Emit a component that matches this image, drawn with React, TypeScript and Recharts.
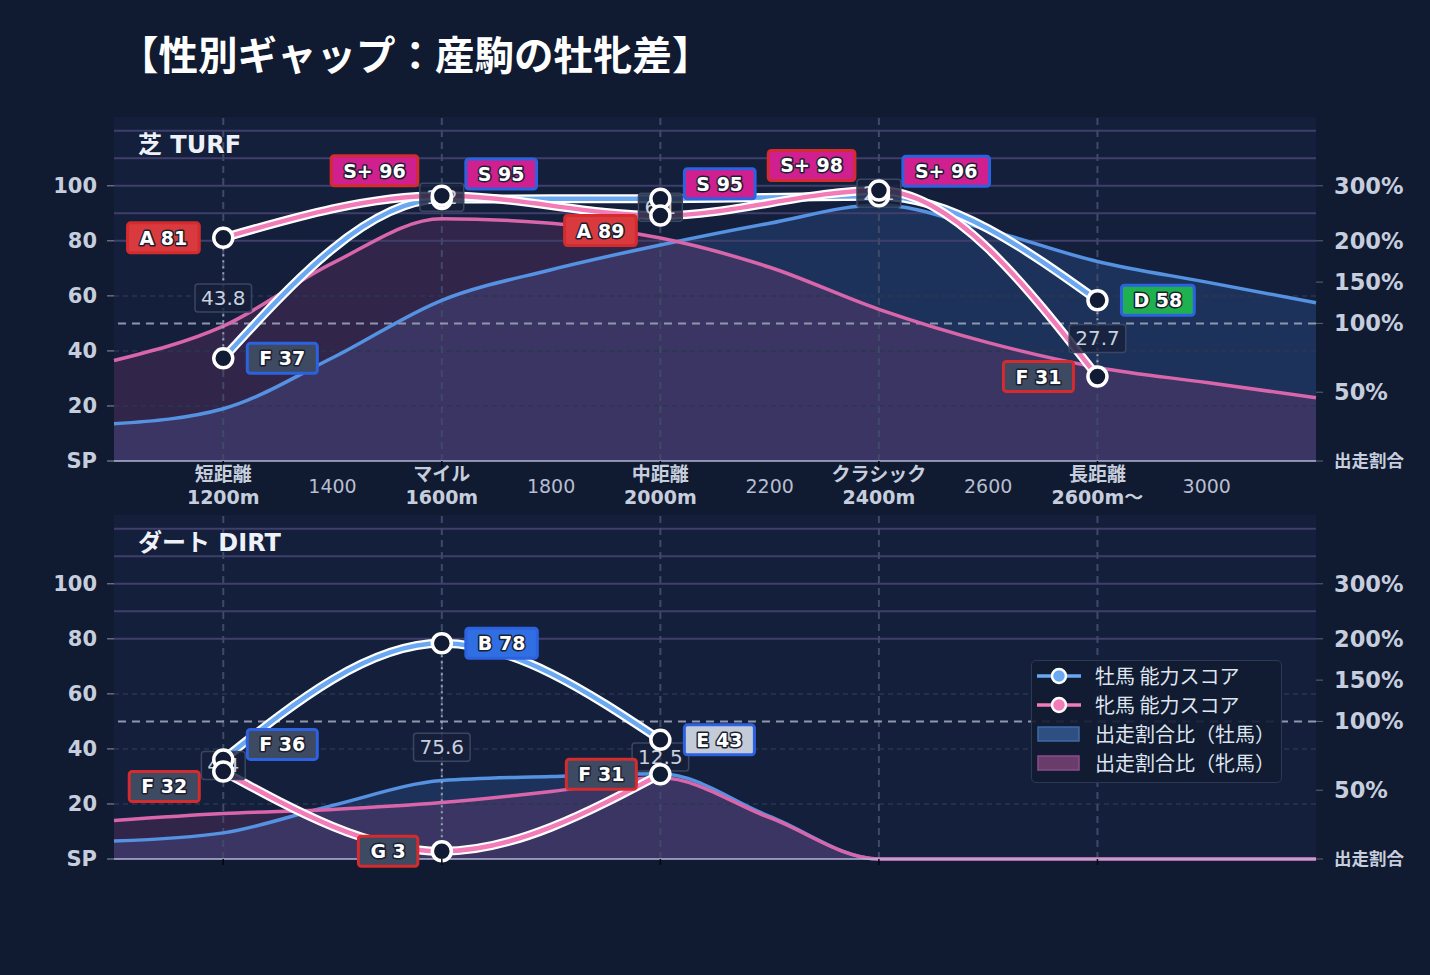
import React from 'react';
import {
  ComposedChart,
  Line,
  Area,
  XAxis,
  YAxis,
  CartesianGrid,
  ReferenceLine,
  Legend,
} from 'recharts';

// 200m刻みの距離軸
const distances = [1000, 1200, 1400, 1600, 1800, 2000, 2200, 2400, 2600, 2800, 3000, 3200];
const distanceTicks = [1200, 1400, 1600, 1800, 2000, 2200, 2400, 2600, 2800, 3000];

// 距離カテゴリ
const categoryDistances = [1200, 1600, 2000, 2400, 2800];
const categoryNames = ['短距離', 'マイル', '中距離', 'クラシック', '長距離'];
const categoryLengths = ['1200m', '1600m', '2000m', '2400m', '2600m〜'];

// 能力スコア（カテゴリごと）
const turfMaleScore = [37.3, 95.2, 95.3, 96.2, 58.4];
const turfFemaleScore = [81.1, 96.4, 89.2, 98.3, 30.7];
const dirtMaleScore = [36.2, 78.4, 43.3, null, null];
const dirtFemaleScore = [31.8, 2.8, 30.8, null, null];

// 出走割合比（%）
const turfMaleShare = [27, 38, 75, 128, 165, 195, 232, 265, 220, 175, 150, 125];
const turfFemaleShare = [73, 98, 173, 240, 232, 205, 168, 117, 86, 68, 57, 46];
const dirtMaleShare = [13, 19, 39, 57, 60, 62, 31, 0, 0, 0, 0, 0];
const dirtFemaleShare = [28, 33, 36, 41, 49, 59, 30, 0, 0, 0, 0, 0];

const scoreTicks = [0, 20, 40, 60, 80, 100];
const shareTicks = [0, 50, 100, 150, 200, 300];
const rankLines = [80, 90, 100, 110, 120];
const minorLines = [20, 40, 60];

const FONT = '"DejaVu Sans", "Noto Sans CJK JP", sans-serif';
const CJK = '"Noto Sans CJK JP", sans-serif';

const MALE = '#6aa9f2';
const FEMALE = '#f27cb8';
const MALE_BORDER = '#2c62e0';
const FEMALE_BORDER = '#d32b2e';

const rankSteps: [number, string][] = [
  [96, 'S+'], [90, 'S'], [80, 'A'], [70, 'B'], [60, 'C'], [50, 'D'], [40, 'E'], [20, 'F'], [0, 'G'],
];
const rankFill: Record<string, string> = {
  'S+': '#d01f8e', S: '#d01f8e', A: '#d93a3d', B: '#2f6fe3', C: '#e0922e',
  D: '#1fb14f', E: '#c3cad8', F: '#3d4a62', G: '#3d4a62',
};

const rankOf = (score: number) => rankSteps.find(([min]) => score >= min)![1];

// 出走割合（%）を左軸と同じスケールに載せる
const shareToAxis = (p: number) => {
  if (p <= 100) return p / 2;
  if (p <= 200) return 50 + (p - 100) * 0.3;
  return 80 + (p - 200) * 0.2;
};

const measureCtx = typeof document !== 'undefined' ? document.createElement('canvas').getContext('2d') : null;
const textWidth = (t: string, font: string) => {
  if (!measureCtx) return t.length * 11;
  measureCtx.font = font;
  return measureCtx.measureText(t).width;
};

const buildRows = (male: (number | null)[], female: (number | null)[], maleShare: number[], femaleShare: number[]) =>
  distances.map((d, i) => {
    const c = categoryDistances.indexOf(d);
    return {
      distance: d,
      male: c >= 0 ? male[c] : null,
      female: c >= 0 ? female[c] : null,
      maleShare: shareToAxis(maleShare[i]),
      femaleShare: shareToAxis(femaleShare[i]),
    };
  });

// 牡牝をつなぐ縦の点線（null で区切る）
const buildConnectors = (male: (number | null)[], female: (number | null)[]) => {
  const out: { distance: number; v: number | null }[] = [];
  categoryDistances.forEach((d, c) => {
    const m = male[c];
    const f = female[c];
    if (m == null || f == null) return;
    out.push({ distance: d, v: m }, { distance: d, v: f }, { distance: d, v: null });
  });
  return out;
};

const buildGaps = (male: (number | null)[], female: (number | null)[]) =>
  categoryDistances
    .map((d, c) => {
      const m = male[c];
      const f = female[c];
      if (m == null || f == null) return null;
      return { distance: d, mid: (m + f) / 2, gap: Math.abs(m - f) };
    })
    .filter(Boolean) as { distance: number; mid: number; gap: number }[];

const ScoreDot = (props: any) => {
  const { cx, cy, value, index } = props;
  if (value == null || cx == null || cy == null) return <g key={`sd-${index}`} />;
  return <circle key={`sd-${index}`} cx={cx} cy={cy} r={9.5} fill="#121b34" stroke="#ffffff" strokeWidth={3.5} />;
};

const GapDot = (props: any) => {
  const { cx, cy, payload, index } = props;
  if (cx == null || cy == null) return <g key={`gd-${index}`} />;
  const t = payload.gap.toFixed(1);
  const w = textWidth(t, '20px "DejaVu Sans"') + 12;
  return (
    <g key={`gd-${index}`}>
      <rect x={cx - w / 2} y={cy - 14} width={w} height={28} rx={3} fill="rgba(22,32,58,0.82)" stroke="#3b4762" strokeWidth={1.5} />
      <text x={cx} y={cy + 7} textAnchor="middle" fontSize={20} fill="#c9d0de" fontFamily={FONT}>
        {t}
      </text>
    </g>
  );
};

const makeRankLabel = (side: 'male' | 'female') => (props: any) => {
  const { cx, cy, payload, index } = props;
  const own = payload?.[side];
  const other = payload?.[side === 'male' ? 'female' : 'male'];
  if (own == null || cx == null || cy == null) return <g key={`rl-${side}-${index}`} />;
  let dy = 0;
  if (other != null) {
    const gap = Math.abs(own - other);
    if (gap < 3) dy = -25;
    else if (gap < 10) dy = own >= other ? -15 : 15;
  }
  const score = Math.round(own);
  const rank = rankOf(score);
  const text = `${rank} ${score}`;
  const w = textWidth(text, 'bold 19px "DejaVu Sans"') + 24;
  const x0 = side === 'male' ? cx + 24 : cx - 24 - w;
  const yc = cy + dy;
  return (
    <g key={`rl-${side}-${index}`}>
      <rect
        x={x0}
        y={yc - 15}
        width={w}
        height={30}
        rx={3}
        fill={rankFill[rank]}
        stroke={side === 'male' ? MALE_BORDER : FEMALE_BORDER}
        strokeWidth={3}
      />
      <text
        x={x0 + w / 2}
        y={yc + 7}
        textAnchor="middle"
        fontSize={19}
        fontWeight={700}
        fontFamily={FONT}
        fill="#ffffff"
        stroke="#1b1f30"
        strokeWidth={3}
        strokeLinejoin="round"
        paintOrder="stroke"
      >
        {text}
      </text>
    </g>
  );
};
const maleRankLabel = makeRankLabel('male');
const femaleRankLabel = makeRankLabel('female');

const DistanceTick = (props: any) => {
  const { x, y, payload } = props;
  const c = categoryDistances.indexOf(payload.value);
  if (c >= 0) {
    return (
      <g>
        <line x1={x} x2={x} y1={y} y2={y + 6} stroke="#05080f" strokeWidth={1.5} />
        <text x={x} y={y + 20} textAnchor="middle" fontSize={19} fontWeight={700} fill="#c6cede" fontFamily={FONT}>
          {categoryNames[c]}
        </text>
        <text x={x} y={y + 43} textAnchor="middle" fontSize={19} fontWeight={700} fill="#c6cede" fontFamily={FONT}>
          {categoryLengths[c]}
        </text>
      </g>
    );
  }
  return (
    <text x={x} y={y + 32} textAnchor="middle" fontSize={19} fill="#b6bed0" fontFamily={FONT}>
      {payload.value}
    </text>
  );
};

const MarkOnlyTick = (props: any) => {
  const { x, y, payload } = props;
  if (categoryDistances.indexOf(payload.value) < 0) return <g />;
  return <line x1={x} x2={x} y1={y} y2={y + 6} stroke="#05080f" strokeWidth={1.5} />;
};

const ShareTick = (props: any) => {
  const { x, y, payload } = props;
  const i = shareTicks.map(shareToAxis).indexOf(payload.value);
  const pct = shareTicks[i];
  if (pct === 0) {
    return (
      <text x={x} y={y} dy="0.35em" fontSize={17.5} fontWeight={700} fill="#c6cede" fontFamily={CJK}>
        出走割合
      </text>
    );
  }
  return (
    <text x={x} y={y} dy="0.35em" fontSize={22.5} fontWeight={700} fill="#c6cede" fontFamily={FONT}>
      {`${pct}%`}
    </text>
  );
};

const legendItems = [
  { name: '牡馬 能力スコア', kind: 'line', color: MALE },
  { name: '牝馬 能力スコア', kind: 'line', color: FEMALE },
  { name: '出走割合比（牡馬）', kind: 'box', color: '#2d4f82', edge: '#3f6aa8' },
  { name: '出走割合比（牝馬）', kind: 'box', color: '#6a3c6c', edge: '#8c4c8a' },
];

const renderLegend = () => (
  <div
    style={{
      background: 'rgba(18,27,50,0.9)',
      border: '1.5px solid #2d3852',
      borderRadius: 5,
      padding: '0px 6px 5px 5px',
      fontFamily: CJK,
      fontSize: 20,
      color: '#dfe5ef',
    }}
  >
    {legendItems.map((it) => (
      <div key={it.name} style={{ display: 'flex', alignItems: 'center', height: 29 }}>
        <svg width={44} height={20} style={{ marginRight: 14 }}>
          {it.kind === 'line' ? (
            <>
              <line x1={0} x2={44} y1={10} y2={10} stroke={it.color} strokeWidth={3.5} />
              <circle cx={22} cy={10} r={7} fill={it.color} stroke="#ffffff" strokeWidth={2.5} />
            </>
          ) : (
            <rect x={1} y={3} width={41} height={14} fill={it.color} stroke={it.edge} strokeWidth={1.5} />
          )}
        </svg>
        <span style={{ whiteSpace: 'nowrap' }}>{it.name}</span>
      </div>
    ))}
  </div>
);

interface PanelProps {
  rows: any[];
  connectors: any[];
  gaps: any[];
  top: number;
  marginTop: number;
  height: number;
  xAxisHeight: number;
  label: string;
  showDistanceLabels: boolean;
  withLegend: boolean;
}

const DistancePanel = ({
  rows, connectors, gaps, top, marginTop, height, xAxisHeight, label, showDistanceLabels, withLegend,
}: PanelProps) => (
  <div style={{ position: 'absolute', left: 0, top, width: 1430, height }}>
    <ComposedChart width={1430} height={height} data={rows} margin={{ top: marginTop, right: 14, bottom: 0, left: 34 }}>
      <CartesianGrid fill="#131f3b" horizontal={false} vertical={false} />
      <XAxis
        dataKey="distance"
        type="number"
        domain={[1000, 3200]}
        ticks={distanceTicks}
        interval={0}
        height={xAxisHeight}
        tick={showDistanceLabels ? DistanceTick : MarkOnlyTick}
        tickLine={false}
        tickSize={0}
        tickMargin={0}
        axisLine={{ stroke: '#b6b6da', strokeWidth: 1.5 }}
      />
      <YAxis
        yAxisId="score"
        orientation="left"
        width={80}
        domain={[0, 125]}
        ticks={scoreTicks}
        interval={0}
        tickFormatter={(v: number) => (v === 0 ? 'SP' : String(v))}
        tick={{ fill: '#c6cede', fontSize: 21, fontWeight: 700, fontFamily: FONT }}
        tickSize={7}
        tickMargin={10}
        tickLine={{ stroke: '#8d93a6' }}
        axisLine={false}
      />
      <YAxis
        yAxisId="share"
        orientation="right"
        width={100}
        domain={[0, 125]}
        ticks={shareTicks.map(shareToAxis)}
        interval={0}
        tick={ShareTick}
        tickSize={7}
        tickMargin={11}
        tickLine={{ stroke: '#5c6479' }}
        axisLine={false}
      />

      {minorLines.map((v) => (
        <ReferenceLine key={`mn-${v}`} yAxisId="score" y={v} stroke="#2b3652" strokeWidth={1.5} strokeDasharray="5 4" />
      ))}
      {rankLines.map((v) => (
        <ReferenceLine key={`rk-${v}`} yAxisId="score" y={v} stroke="#403f6b" strokeWidth={2} />
      ))}
      {categoryDistances.map((d) => (
        <ReferenceLine key={`cd-${d}`} yAxisId="score" x={d} stroke="#3f4a68" strokeWidth={2} strokeDasharray="7 5" />
      ))}
      <ReferenceLine yAxisId="share" y={shareToAxis(100)} stroke="#8f97ad" strokeWidth={2} strokeDasharray="8 6" />

      {/* 出走割合の塗り → 輪郭線の順に重ねる */}
      <Area
        yAxisId="share"
        type="monotone"
        dataKey="maleShare"
        stroke="none"
        fill="rgb(70,130,220)"
        fillOpacity={0.2}
        dot={false}
        activeDot={false}
        isAnimationActive={false}
      />
      <Area
        yAxisId="share"
        type="monotone"
        dataKey="femaleShare"
        stroke="none"
        fill="rgb(200,70,140)"
        fillOpacity={0.17}
        dot={false}
        activeDot={false}
        isAnimationActive={false}
      />
      <Line yAxisId="share" type="monotone" dataKey="maleShare" stroke="#5592e2" strokeWidth={3.5} dot={false} activeDot={false} isAnimationActive={false} />
      <Line yAxisId="share" type="monotone" dataKey="femaleShare" stroke="#d966ab" strokeWidth={3.5} dot={false} activeDot={false} isAnimationActive={false} />

      <Line yAxisId="score" type="monotone" dataKey="male" connectNulls stroke="#ffffff" strokeWidth={9} dot={false} activeDot={false} isAnimationActive={false} />
      <Line yAxisId="score" type="monotone" dataKey="male" connectNulls stroke={MALE} strokeWidth={4.5} dot={false} activeDot={false} isAnimationActive={false} />
      <Line yAxisId="score" type="monotone" dataKey="female" connectNulls stroke="#ffffff" strokeWidth={9} dot={false} activeDot={false} isAnimationActive={false} />
      <Line yAxisId="score" type="monotone" dataKey="female" connectNulls stroke={FEMALE} strokeWidth={4.5} dot={false} activeDot={false} isAnimationActive={false} />

      <Line
        yAxisId="score"
        data={connectors}
        dataKey="v"
        type="linear"
        stroke="#9aa2b8"
        strokeWidth={2}
        strokeDasharray="2 4"
        dot={false}
        activeDot={false}
        isAnimationActive={false}
      />
      <Line yAxisId="score" data={gaps} dataKey="mid" stroke="none" dot={GapDot} activeDot={false} isAnimationActive={false} />

      <Line yAxisId="score" dataKey="male" stroke="none" dot={ScoreDot} activeDot={false} isAnimationActive={false} />
      <Line yAxisId="score" dataKey="female" stroke="none" dot={ScoreDot} activeDot={false} isAnimationActive={false} />
      <Line yAxisId="score" dataKey="male" stroke="none" dot={maleRankLabel} activeDot={false} isAnimationActive={false} />
      <Line yAxisId="score" dataKey="female" stroke="none" dot={femaleRankLabel} activeDot={false} isAnimationActive={false} />

      {withLegend && (
        <Legend
          layout="vertical"
          align="center"
          verticalAlign="middle"
          content={renderLegend}
          wrapperStyle={{ left: 1031, top: 145, width: 'auto', height: 'auto' }}
        />
      )}
    </ComposedChart>
    <div
      style={{
        position: 'absolute',
        left: 138,
        top: marginTop + 15,
        fontFamily: FONT,
        fontWeight: 700,
        fontSize: 24,
        lineHeight: '26px',
        color: '#eef2f8',
        whiteSpace: 'nowrap',
      }}
    >
      {label}
    </div>
  </div>
);

const turfRows = buildRows(turfMaleScore, turfFemaleScore, turfMaleShare, turfFemaleShare);
const dirtRows = buildRows(dirtMaleScore, dirtFemaleScore, dirtMaleShare, dirtFemaleShare);

export default function App() {
  return (
    <div style={{ position: 'absolute', left: 0, top: 0, width: 1430, height: 975, background: '#101a30', overflow: 'hidden' }}>
      <div
        style={{
          position: 'absolute',
          left: 119,
          top: 29,
          fontFamily: CJK,
          fontWeight: 700,
          fontSize: 39.5,
          lineHeight: '48px',
          color: '#ffffff',
          whiteSpace: 'nowrap',
        }}
      >
        【性別ギャップ：産駒の牡牝差】
      </div>
      <DistancePanel
        rows={turfRows}
        connectors={buildConnectors(turfMaleScore, turfFemaleScore)}
        gaps={buildGaps(turfMaleScore, turfFemaleScore)}
        top={0}
        marginTop={117}
        height={515}
        xAxisHeight={54}
        label="芝 TURF"
        showDistanceLabels
        withLegend={false}
      />
      <DistancePanel
        rows={dirtRows}
        connectors={buildConnectors(dirtMaleScore, dirtFemaleScore)}
        gaps={buildGaps(dirtMaleScore, dirtFemaleScore)}
        top={515}
        marginTop={0}
        height={364}
        xAxisHeight={20}
        label="ダート DIRT"
        showDistanceLabels={false}
        withLegend
      />
    </div>
  );
}
